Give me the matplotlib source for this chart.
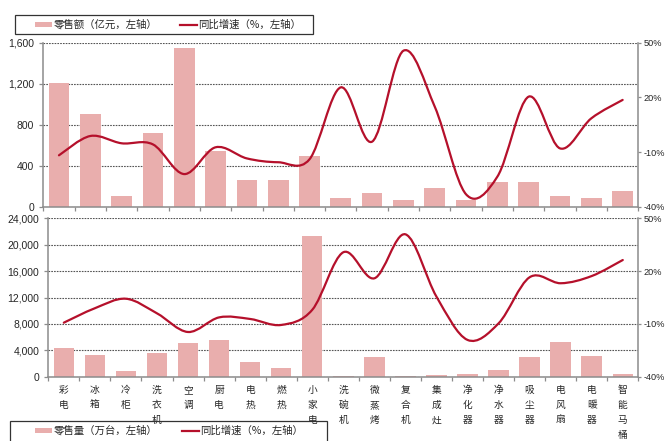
import matplotlib
matplotlib.use("Agg")
import matplotlib.pyplot as plt
from matplotlib.path import Path
from matplotlib.patches import PathPatch, Rectangle
from matplotlib.lines import Line2D
from matplotlib.ticker import FuncFormatter
import numpy as np

categories = ["彩电", "冰箱", "冷柜", "洗衣机", "空调", "厨电", "电热", "燃热", "小家电",
              "洗碗机", "微蒸烤", "复合机", "集成灶", "净化器", "净水器", "吸尘器",
              "电风扇", "电暖器", "智能马桶"]

# retail sales (100 million yuan) and YoY growth (%)
sales_value = [1210, 900, 107, 715, 1550, 545, 263, 265, 490, 85, 130, 62, 180,
               62, 241, 241, 104, 88, 150]
value_yoy = [-11.8, -1.2, -5.2, -5.8, -22.1, -7.4, -13.5, -15.6, -14.0, 25.5, -4.3,
             45.6, 14.9, -33.2, -23.5, 20.4, -8.0, 8.5, 18.6]

# retail volume (10k units) and YoY growth (%)
sales_volume = [4350, 3290, 860, 3590, 5100, 5560, 2180, 1320, 21300, 150, 2940,
                100, 250, 400, 1000, 2940, 5250, 3180, 400]
volume_yoy = [-9.3, -1.1, 4.3, -4.0, -14.6, -6.3, -7.2, -10.6, -2.0, 30.7, 15.9,
              40.9, 5.5, -19.1, -9.7, 16.5, 13.1, 17.2, 26.3]

value_ticks = [0, 400, 800, 1200, 1600]
volume_ticks = [0, 4000, 8000, 12000, 16000, 20000, 24000]
pct_ticks = [-40, -10, 20, 50]

legend_top = ["零售额（亿元，左轴）", "同比增速（%，左轴）"]
legend_bottom = ["零售量（万台，左轴）", "同比增速（%，左轴）"]

BAR = "#E9AEAD"
LINE = "#B5102B"
GRID = "#555555"
SPINE = "#8C8C8C"
TXT = "#262626"
W, H = 665, 441
NUM_FONT = ["Liberation Sans", "DejaVu Sans"]
CJK_FONT = ["Noto Sans CJK SC", "DejaVu Sans"]

plt.rcParams["font.family"] = NUM_FONT

fig = plt.figure(figsize=(W / 100, H / 100), dpi=100)


def fx(px):
    return px / W


def fy(py):
    return 1 - py / H


def smooth_path(xs, ys):
    pts = np.column_stack([xs, ys]).astype(float)
    n = len(pts)
    verts = [pts[0]]
    codes = [Path.MOVETO]
    for i in range(n - 1):
        p0 = pts[i - 1] if i > 0 else pts[i]
        p1 = pts[i]
        p2 = pts[i + 1]
        p3 = pts[i + 2] if i + 2 < n else pts[i + 1]
        verts += [p1 + (p2 - p0) / 6, p2 - (p3 - p1) / 6, p2]
        codes += [Path.CURVE4] * 3
    return Path(verts, codes)


def panel(rect, bars, ticks, yoy):
    ax = fig.add_axes(rect)
    x = np.arange(len(categories))
    ax.bar(x, bars, width=0.66, color=BAR, zorder=2)
    ax.set_xlim(-0.5, len(categories) - 0.5)
    ax.set_ylim(ticks[0], ticks[-1])
    ax.set_yticks(ticks)
    ax.yaxis.set_major_formatter(FuncFormatter(lambda v, p: f"{int(v):,}"))
    ax.set_xticks(np.arange(-0.5, len(categories), 1.0))
    ax.set_xticklabels([])
    ax.set_axisbelow(True)
    ax.yaxis.grid(True, color=GRID, lw=0.8, ls=(0, (1.5, 1.0)))
    for s in ["top", "right"]:
        ax.spines[s].set_visible(False)
    for s in ["left", "bottom"]:
        ax.spines[s].set_color(SPINE)
        ax.spines[s].set_linewidth(1.1)
    ax.tick_params(axis="both", color=SPINE, length=3, width=0.9, direction="out")
    ax.tick_params(axis="y", labelsize=7.5, labelcolor=TXT, pad=3.5)

    ax2 = ax.twinx()
    ax2.set_ylim(-40, 50)
    ax2.set_yticks(pct_ticks)
    ax2.set_yticklabels([f"{t}%" for t in pct_ticks])
    for s in ["top", "left", "bottom"]:
        ax2.spines[s].set_visible(False)
    ax2.spines["right"].set_color(SPINE)
    ax2.spines["right"].set_linewidth(1.1)
    ax2.tick_params(axis="y", color=SPINE, length=2.5, width=0.9, labelsize=6.6,
                    labelcolor=TXT, pad=1.2)
    ax2.add_patch(PathPatch(smooth_path(x, yoy), fill=False, edgecolor=LINE,
                            lw=1.6, capstyle="round", joinstyle="round", zorder=3))
    return ax, ax2


top_rect = [fx(43.3), fy(206.7), fx(638.3 - 43.3), (206.7 - 42.7) / H]
bot_rect = [fx(48.3), fy(376.7), fx(638.3 - 48.3), (376.7 - 218.3) / H]

ax_top, _ = panel(top_rect, sales_value, value_ticks, value_yoy)
ax_bot, _ = panel(bot_rect, sales_volume, volume_ticks, volume_yoy)

# vertical category labels under the lower panel
for i, name in enumerate(categories):
    for j, ch in enumerate(name):
        ax_bot.annotate(ch, xy=(i, 0), xycoords=("data", "axes fraction"),
                        xytext=(0, -(13.5 + 15 * j) * 0.72), textcoords="offset points",
                        ha="center", va="center", fontsize=7, color=TXT,
                        family=CJK_FONT)


def legend_box(x0, y0, x1, y1, patch_x, line_x, cy, labels):
    fig.add_artist(Rectangle((fx(x0), fy(y1)), fx(x1 - x0), (y1 - y0) / H,
                             transform=fig.transFigure, fill=False,
                             edgecolor="#333333", lw=0.9))
    fig.add_artist(Rectangle((fx(patch_x), fy(cy + 2.5)), fx(17), 5 / H,
                             transform=fig.transFigure, color=BAR, lw=0))
    fig.text(fx(patch_x + 19), fy(cy), labels[0], ha="left", va="center",
             fontsize=7.5, color=TXT, family=CJK_FONT)
    fig.add_artist(Line2D([fx(line_x), fx(line_x + 17)], [fy(cy), fy(cy)],
                          transform=fig.transFigure, color=LINE, lw=1.6))
    fig.text(fx(line_x + 18), fy(cy), labels[1], ha="left", va="center",
             fontsize=7.5, color=TXT, family=CJK_FONT)


legend_box(15, 15, 313, 34, 35, 180, 24.5, legend_top)
legend_box(10, 421, 327, 452, 35, 182, 430.7, legend_bottom)

fig.savefig("out.png", dpi=100)
